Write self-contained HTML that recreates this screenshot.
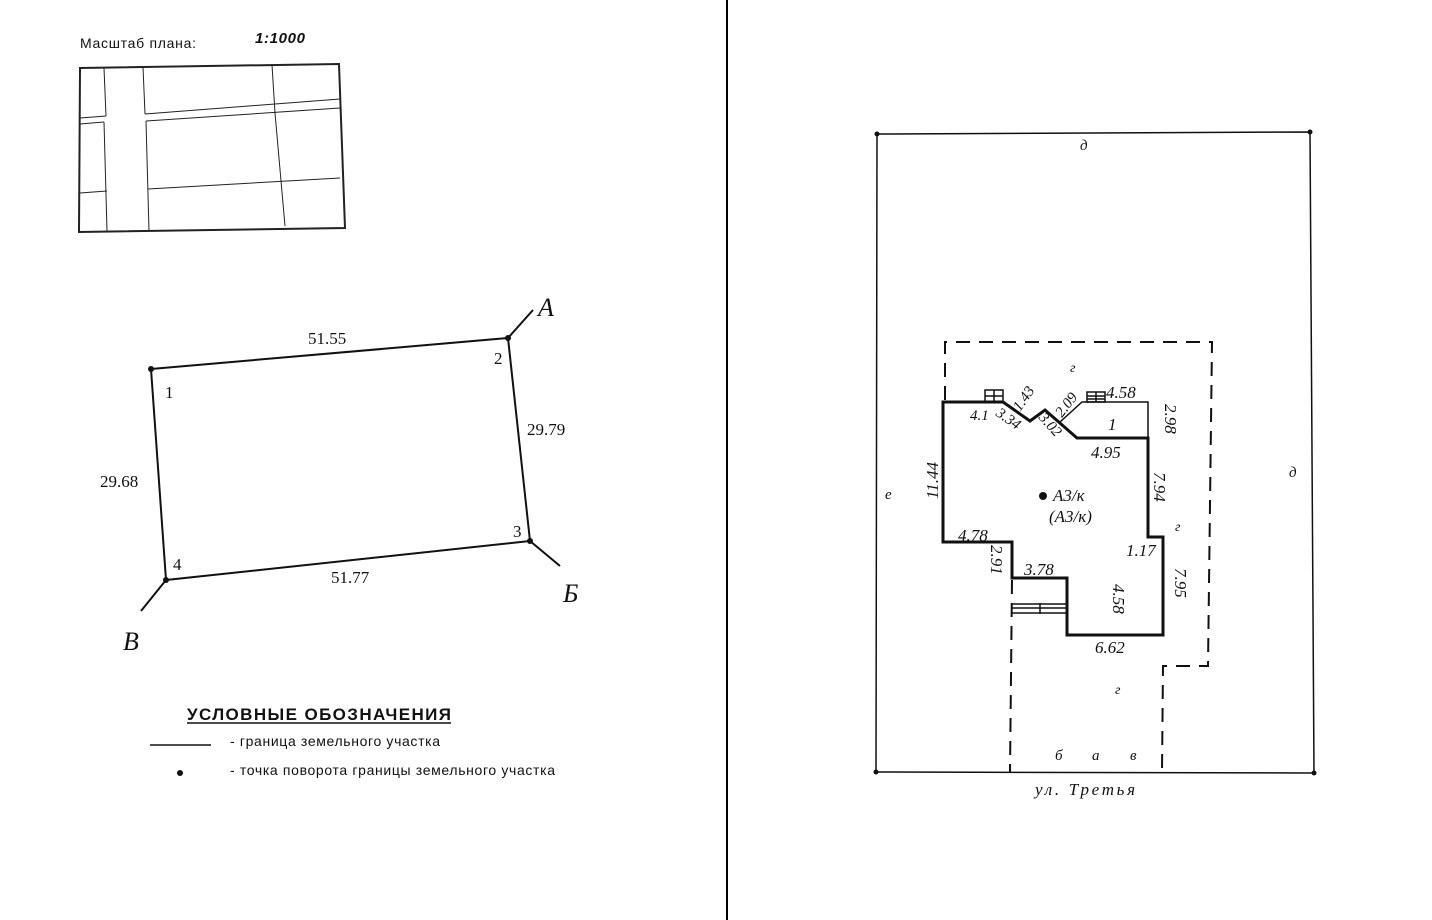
<!DOCTYPE html>
<html><head><meta charset="utf-8"><style>
html,body{margin:0;padding:0;background:#fff;}
svg{display:block;}
.s{font-family:"Liberation Sans",sans-serif;}
.t{font-family:"Liberation Serif",serif;}
.i{font-family:"Liberation Serif",serif;font-style:italic;}
</style></head><body>
<svg width="1432" height="920" viewBox="0 0 1432 920" xmlns="http://www.w3.org/2000/svg">
<rect width="1432" height="920" fill="#fff"/>
<line x1="727" y1="0" x2="727" y2="920" stroke="#000" stroke-width="2"/>

<text x="80" y="48" class="s" font-size="14" fill="#111" textLength="116">Масштаб плана:</text>
<text x="255" y="43" class="s" font-size="15" font-weight="bold" font-style="italic" fill="#111" textLength="50">1:1000</text>

<g stroke="#222" fill="none">
<polygon points="80,68 339,64 345,228 79,232" stroke-width="2"/>
<g stroke-width="1">
<line x1="104" y1="68" x2="106" y2="116"/>
<line x1="80" y1="118" x2="106" y2="116"/>
<line x1="80" y1="124" x2="104" y2="122"/>
<line x1="104" y1="122" x2="107" y2="231"/>
<line x1="80" y1="193" x2="107" y2="191"/>
<line x1="143" y1="67" x2="145" y2="114"/>
<line x1="145" y1="114" x2="340" y2="99"/>
<line x1="146" y1="121" x2="340" y2="108"/>
<line x1="146" y1="121" x2="149" y2="231"/>
<line x1="148" y1="189" x2="340" y2="178"/>
<line x1="272" y1="65" x2="275" y2="113"/>
<line x1="275" y1="113" x2="285" y2="226"/>
</g></g>

<g stroke="#111" stroke-width="2" fill="none">
<polygon points="151,369 508,338 530,541 166,580"/>
<line x1="508" y1="338" x2="533" y2="310"/>
<line x1="530" y1="541" x2="560" y2="566"/>
<line x1="166" y1="580" x2="141" y2="611"/>
</g>
<g fill="#111"><circle cx="151" cy="369" r="3"/><circle cx="508" cy="338" r="3"/><circle cx="530" cy="541" r="3"/><circle cx="166" cy="580" r="3"/></g>
<g class="t" font-size="17" fill="#111">
<text x="308" y="344">51.55</text>
<text x="527" y="435">29.79</text>
<text x="100" y="487">29.68</text>
<text x="331" y="583">51.77</text>
<text x="165" y="398">1</text>
<text x="494" y="364">2</text>
<text x="513" y="537">3</text>
<text x="173" y="570">4</text>
</g>
<g class="i" font-size="26" fill="#111">
<text x="538" y="316">А</text>
<text x="563" y="602">Б</text>
<text x="123" y="650">В</text>
</g>

<text x="187" y="720" class="s" font-size="17" font-weight="bold" fill="#111" textLength="264">УСЛОВНЫЕ ОБОЗНАЧЕНИЯ</text>
<line x1="187" y1="723" x2="451" y2="723" stroke="#111" stroke-width="1.5"/>
<line x1="150" y1="745" x2="211" y2="745" stroke="#111" stroke-width="1.5"/>
<text x="230" y="746" class="s" font-size="14" fill="#111" textLength="210">- граница земельного участка</text>
<circle cx="180" cy="773" r="3" fill="#111"/>
<text x="230" y="775" class="s" font-size="14" fill="#111" textLength="325">- точка поворота границы земельного участка</text>

<g stroke="#111" stroke-width="1.5" fill="none">
<polyline points="877,134 1310,132 1314,773 876,772 877,134"/>
</g>
<g fill="#111"><circle cx="877" cy="134" r="2.5"/><circle cx="1310" cy="132" r="2.5"/><circle cx="1314" cy="773" r="2.5"/><circle cx="876" cy="772" r="2.5"/></g>

<g stroke="#111" stroke-width="2" fill="none" stroke-dasharray="14,9">
<polyline points="945,400 945,342 1212,342 1208,666 1163,666 1162,772"/>
<line x1="1012" y1="580" x2="1010" y2="772"/>
</g>

<g stroke="#111" stroke-width="3" fill="none">
<polygon points="943,402 1003,402 1030,421 1045,410 1077,438 1148,438 1148,537 1163,537 1163,635 1067,635 1067,578 1012,578 1012,542 943,542"/>
</g>
<g stroke="#111" stroke-width="1.5" fill="none">
<polyline points="1060,422 1082,402 1148,402 1148,438"/>
<rect x="985" y="390" width="18" height="12"/>
<line x1="994" y1="390" x2="994" y2="402"/><line x1="985" y1="396" x2="1003" y2="396"/>
<rect x="1087" y="392" width="18" height="10"/>
<line x1="1096" y1="392" x2="1096" y2="402"/><line x1="1087" y1="396" x2="1105" y2="396"/><line x1="1087" y1="399" x2="1105" y2="399"/>
<line x1="1012" y1="604" x2="1067" y2="604"/>
<line x1="1012" y1="608" x2="1067" y2="608"/>
<line x1="1012" y1="613" x2="1067" y2="613"/>
<line x1="1040" y1="603" x2="1040" y2="614"/>
</g>
<circle cx="1043" cy="496" r="4" fill="#111"/>

<g class="i" font-size="17" fill="#111">
<text x="1080" y="150" font-size="15">д</text>
<text x="1289" y="477" font-size="15">д</text>
<text x="885" y="499" font-size="15">е</text>
<text x="1053" y="501">А3/к</text>
<text x="1049" y="522">(А3/к)</text>
<text x="1106" y="398">4.58</text>
<text x="1108" y="430">1</text>
<text x="1091" y="458">4.95</text>
<text x="958" y="541">4.78</text>
<text x="1024" y="575">3.78</text>
<text x="1126" y="556">1.17</text>
<text x="1095" y="653">6.62</text>
<text x="1070" y="372" font-size="14">г</text>
<text x="1175" y="531" font-size="14">г</text>
<text x="1115" y="694" font-size="14">г</text>
<text x="1055" y="760" font-size="15">б</text>
<text x="1092" y="760" font-size="15">а</text>
<text x="1130" y="760" font-size="15">в</text>
<text x="1035" y="795" textLength="100">ул. Третья</text>
<text x="970" y="420" font-size="15">4.1</text>
<text x="995" y="415" font-size="15" transform="rotate(35 995 415)">3.34</text>
<text x="1020" y="412" font-size="15" transform="rotate(-55 1020 412)">1.43</text>
<text x="1038" y="418" font-size="15" transform="rotate(48 1038 418)">3.02</text>
<text x="1062" y="418" font-size="15" transform="rotate(-52 1062 418)">2.09</text>
<text x="1165" y="404" transform="rotate(90 1165 404)">2.98</text>
<text x="1154" y="472" transform="rotate(90 1154 472)">7.94</text>
<text x="1175" y="568" transform="rotate(90 1175 568)">7.95</text>
<text x="1113" y="584" transform="rotate(90 1113 584)">4.58</text>
<text x="991" y="545" transform="rotate(90 991 545)">2.91</text>
<text x="938" y="499" transform="rotate(-90 938 499)">11.44</text>
</g>
</svg>
</body></html>
